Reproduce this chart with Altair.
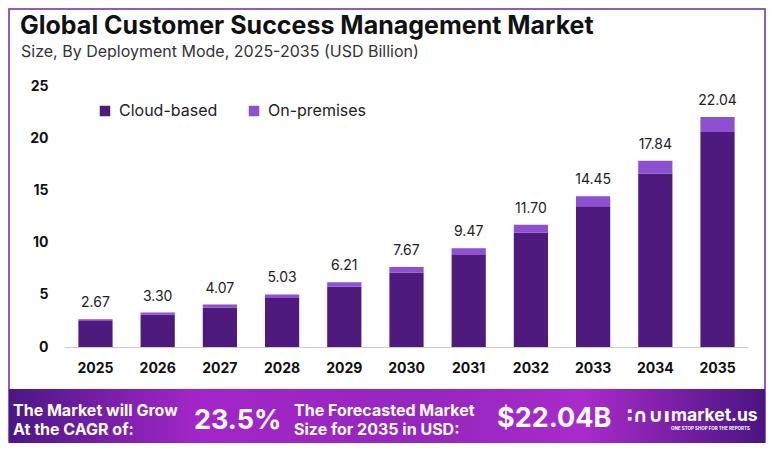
import altair as alt
import pandas as pd

# ---- data ----
years = ["2025", "2026", "2027", "2028", "2029", "2030", "2031", "2032", "2033", "2034", "2035"]
totals = [2.67, 3.30, 4.07, 5.03, 6.21, 7.67, 9.47, 11.70, 14.45, 17.84, 22.04]
cloud_based = [2.50, 3.08, 3.79, 4.70, 5.78, 7.13, 8.81, 10.94, 13.49, 16.62, 20.60]
on_premises = [0.17, 0.22, 0.28, 0.33, 0.43, 0.54, 0.66, 0.76, 0.96, 1.22, 1.44]
segments = ["Cloud-based", "On-premises"]
seg_colors = ["#4e1a7e", "#8c50d0"]
y_ticks = [0, 5, 10, 15, 20, 25]

title_text = "Global Customer Success Management Market"
subtitle_text = "Size, By Deployment Mode, 2025-2035 (USD Billion)"
cagr_lines = ["The Market will Grow", "At the CAGR of:"]
cagr_value = "23.5%"
forecast_lines = ["The Forecasted Market", "Size for 2035 in USD:"]
forecast_value = "$22.04B"
brand = "market.us"
brand_icon = "\u2236\u2229\u222a\u0131"
brand_tag = "ONE STOP SHOP FOR THE REPORTS"

rows = []
for i, yr in enumerate(years):
    rows.append({"year": yr, "segment": segments[0], "value": cloud_based[i], "ord": 0})
    rows.append({"year": yr, "segment": segments[1], "value": on_premises[i], "ord": 1})
df = pd.DataFrame(rows)
tot_df = pd.DataFrame({"year": years, "total": totals})
one = pd.DataFrame({"k": [0]})

W, H = 683, 261
FONT = "Inter"

x_enc = alt.X(
    "year:N", sort=years,
    scale=alt.Scale(paddingInner=0.45, paddingOuter=0.215),
    axis=alt.Axis(title=None, labelAngle=0, labelFont=FONT, labelFontWeight="bold",
                  labelFontSize=14, labelColor="#111111", labelPadding=14,
                  ticks=False, domainColor="#cccccc", domainWidth=1),
)

bars = alt.Chart(df).mark_bar().encode(
    x=x_enc,
    y=alt.Y("value:Q", stack="zero",
            scale=alt.Scale(domain=[0, 25], nice=False),
            axis=alt.Axis(title=None, values=y_ticks, grid=False, domain=False, ticks=False,
                          labelPadding=17, labelFont=FONT, labelFontWeight="bold",
                          labelFontSize=14, labelColor="#111111")),
    color=alt.Color("segment:N", scale=alt.Scale(domain=segments, range=seg_colors),
                    legend=alt.Legend(title=None, orient="none", legendX=32, legendY=17,
                                      direction="horizontal", symbolType="square",
                                      symbolSize=110, symbolStrokeWidth=0,
                                      labelFont=FONT, labelFontSize=16, labelColor="#222222",
                                      columnPadding=28, labelOffset=6, padding=0)),
    order=alt.Order("ord:Q"),
)

labels = alt.Chart(tot_df).mark_text(
    baseline="bottom", dy=-9, font=FONT, fontSize=14, color="#222222"
).encode(
    x=alt.X("year:N", sort=years),
    y=alt.Y("total:Q"),
    text=alt.Text("total:Q", format=".2f"),
)


def txt(s, x, y, size, weight="normal", color="#ffffff", align="left", font=FONT):
    return alt.Chart(one).mark_text(
        text=s, align=align, baseline="alphabetic", fontSize=size,
        fontWeight=weight, color=color, font=font
    ).encode(x=alt.value(x), y=alt.value(y))


border = alt.Chart(one).mark_rect(
    fillOpacity=0, stroke="#6a2aa8", strokeWidth=1.5
).encode(x=alt.value(-56), x2=alt.value(700), y=alt.value(-77), y2=alt.value(356))

banner = alt.Chart(one).mark_rect(
    fill=alt.Gradient(
        gradient="linear", x1=0, y1=0, x2=1, y2=0,
        stops=[alt.GradientStop(offset=0, color="#4b1786"),
               alt.GradientStop(offset=0.25, color="#a326c8"),
               alt.GradientStop(offset=0.55, color="#9626be"),
               alt.GradientStop(offset=0.76, color="#a92bcb"),
               alt.GradientStop(offset=1, color="#4a1580")]),
).encode(x=alt.value(-56), x2=alt.value(700), y=alt.value(303), y2=alt.value(357))

overlays = [
    txt(title_text, -45, -52, 25, "bold", "#111111"),
    txt(subtitle_text, -44, -29, 16, "normal", "#333333"),
    txt(cagr_lines[0], -52, 330, 16, "bold"),
    txt(cagr_lines[1], -52, 348.5, 16, "bold"),
    txt(cagr_value, 129, 343, 27, "bold"),
    txt(forecast_lines[0], 229, 329.5, 16, "bold"),
    txt(forecast_lines[1], 229, 348.5, 16, "bold"),
    txt(forecast_value, 432, 341, 27, "bold"),
    txt(brand_icon, 562, 336, 19, "bold", "#ffffff", font="DejaVu Sans"),
    txt(brand, 606, 335, 17.5, "bold"),
    txt(brand_tag, 606, 344, 4.5, "bold"),
]

chart = alt.layer(border, bars, labels, banner, *overlays).properties(
    width=W, height=H,
    padding={"left": 57, "top": 78, "right": 18, "bottom": 96},
    autosize=alt.AutoSizeParams(type="none"),
    background="#ffffff",
).configure_view(stroke=None)

chart.save("out.html", embed_options={"renderer": "svg", "actions": False})
